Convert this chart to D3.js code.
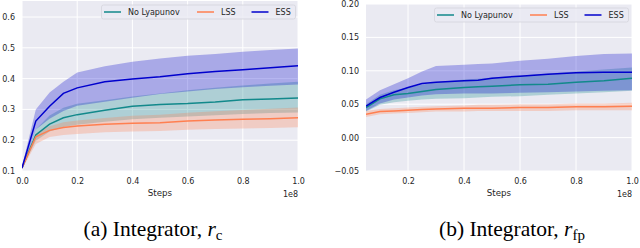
<!DOCTYPE html>
<html><head><meta charset="utf-8">
<script src="https://cdn.jsdelivr.net/npm/d3@7"></script>
<style>body{margin:0;background:#fff;}svg{display:block;}</style>
</head><body><svg id="c" width="640" height="248"></svg>
<script>
const seriesNames = ["No Lyapunov", "LSS", "ESS"];
const seriesColors = ["#12898b", "#ff7f50", "#0000cd"];

// Panel (a): r_c
const stepsA = [0, 0.05, 0.1, 0.15, 0.2, 0.3, 0.4, 0.5, 0.6, 0.7, 0.8, 0.9, 1.0];
const nolA   = [0.11, 0.217, 0.252, 0.273, 0.283, 0.297, 0.310, 0.316, 0.319, 0.324, 0.331, 0.334, 0.337];
const nolUpA = [0.112, 0.235, 0.280, 0.305, 0.318, 0.330, 0.342, 0.352, 0.362, 0.370, 0.378, 0.384, 0.390];
const nolLoA = [0.108, 0.198, 0.228, 0.243, 0.250, 0.260, 0.268, 0.273, 0.277, 0.281, 0.285, 0.288, 0.290];
const lssA   = [0.11, 0.211, 0.232, 0.241, 0.246, 0.252, 0.255, 0.257, 0.262, 0.266, 0.268, 0.270, 0.273];
const lssUpA = [0.112, 0.222, 0.245, 0.258, 0.264, 0.272, 0.279, 0.283, 0.289, 0.294, 0.298, 0.302, 0.306];
const lssLoA = [0.106, 0.188, 0.210, 0.217, 0.220, 0.226, 0.228, 0.230, 0.234, 0.236, 0.238, 0.240, 0.242];
const essA   = [0.11, 0.262, 0.310, 0.352, 0.370, 0.390, 0.399, 0.406, 0.416, 0.423, 0.429, 0.435, 0.442];
const essUpA = [0.115, 0.300, 0.355, 0.390, 0.420, 0.440, 0.455, 0.465, 0.474, 0.480, 0.487, 0.493, 0.498];
const essLoA = [0.105, 0.235, 0.270, 0.295, 0.312, 0.325, 0.338, 0.350, 0.358, 0.366, 0.372, 0.377, 0.381];
const xTicksA = [0, 0.2, 0.4, 0.6, 0.8, 1.0];
const yTicksA = [0.1, 0.2, 0.3, 0.4, 0.5, 0.6];

// Panel (b): r_fp
const stepsB = [0.05, 0.1, 0.15, 0.2, 0.25, 0.3, 0.4, 0.45, 0.5, 0.6, 0.7, 0.8, 0.9, 1.0];
const nolB   = [0.045, 0.058, 0.064, 0.066, 0.069, 0.072, 0.075, 0.076, 0.077, 0.079, 0.080, 0.083, 0.085, 0.089];
const nolUpB = [0.050, 0.064, 0.071, 0.075, 0.079, 0.083, 0.087, 0.088, 0.090, 0.093, 0.096, 0.099, 0.102, 0.105];
const nolLoB = [0.039, 0.049, 0.053, 0.055, 0.057, 0.058, 0.059, 0.060, 0.061, 0.062, 0.064, 0.066, 0.068, 0.070];
const lssB   = [0.035, 0.039, 0.040, 0.041, 0.042, 0.043, 0.044, 0.044, 0.044, 0.045, 0.045, 0.046, 0.046, 0.047];
const lssUpB = [0.040, 0.043, 0.044, 0.045, 0.046, 0.047, 0.048, 0.049, 0.049, 0.050, 0.050, 0.051, 0.051, 0.052];
const lssLoB = [0.031, 0.035, 0.036, 0.037, 0.038, 0.039, 0.039, 0.040, 0.040, 0.040, 0.040, 0.041, 0.041, 0.041];
const essB   = [0.047, 0.060, 0.068, 0.075, 0.081, 0.083, 0.085, 0.086, 0.089, 0.092, 0.095, 0.097, 0.098, 0.098];
const essUpB = [0.057, 0.071, 0.080, 0.089, 0.099, 0.107, 0.109, 0.110, 0.111, 0.115, 0.118, 0.122, 0.125, 0.126];
const essLoB = [0.040, 0.051, 0.057, 0.060, 0.063, 0.065, 0.066, 0.066, 0.066, 0.067, 0.068, 0.069, 0.070, 0.071];
const xTicksB = [0.2, 0.4, 0.6, 0.8, 1.0];
const yTicksB = [-0.05, 0.00, 0.05, 0.10, 0.15, 0.20];

const svg = d3.select("#c");
const FONT = "DejaVu Sans, sans-serif";

function panel(o) {
  const g = svg.append("g");
  const x = d3.scaleLinear().domain(o.xDom).range([o.left, o.right]);
  const y = d3.scaleLinear().domain(o.yDom).range([o.bottom, o.top]);
  g.append("rect").attr("x", o.left).attr("y", o.top)
    .attr("width", o.right - o.left).attr("height", o.bottom - o.top).attr("fill", "#eaeaf2");
  g.selectAll(".gx").data(o.xTicks).join("line")
    .attr("x1", d => x(d)).attr("x2", d => x(d)).attr("y1", o.top).attr("y2", o.bottom)
    .attr("stroke", "#fff").attr("stroke-width", 1);
  g.selectAll(".gy").data(o.yTicks).join("line")
    .attr("y1", d => y(d)).attr("y2", d => y(d)).attr("x1", o.left).attr("x2", o.right)
    .attr("stroke", "#fff").attr("stroke-width", 1);
  const xa = g.append("g").attr("transform", `translate(0,${o.bottom})`)
    .call(d3.axisBottom(x).tickValues(o.xTicks).tickSize(0).tickPadding(7).tickFormat(d3.format(".1f")));
  const ya = g.append("g").attr("transform", `translate(${o.left},0)`)
    .call(d3.axisLeft(y).tickValues(o.yTicks).tickSize(0).tickPadding(7).tickFormat(o.yFmt));
  [xa, ya].forEach(a => {
    a.select(".domain").remove();
    a.selectAll("text").attr("font-family", FONT).attr("font-size", 8).attr("fill", "#262626");
  });
  g.append("text").attr("x", (o.left + o.right) / 2).attr("y", o.bottom + 25)
    .attr("text-anchor", "middle").attr("font-family", FONT).attr("font-size", 8.7).attr("fill", "#262626").text("Steps");
  g.append("text").attr("x", o.right).attr("y", o.bottom + 26)
    .attr("text-anchor", "end").attr("font-family", FONT).attr("font-size", 8).attr("fill", "#262626").text("1e8");

  const clipId = "clip" + o.id;
  g.append("clipPath").attr("id", clipId).append("rect").attr("x", o.left).attr("y", o.top)
    .attr("width", o.right - o.left).attr("height", o.bottom - o.top);
  const pg = g.append("g").attr("clip-path", `url(#${clipId})`);
  const area = d3.area().x(d => x(d.s)).y0(d => y(d.lo)).y1(d => y(d.hi));
  const line = d3.line().x(d => x(d.s)).y(d => y(d.v));
  const data = o.series.map(s => o.steps.map((st, i) => ({s: st, v: s.v[i], lo: s.lo[i], hi: s.hi[i]})));
  data.forEach((d, i) => {
    pg.append("path").attr("d", area(d)).attr("fill", seriesColors[i]).attr("fill-opacity", 0.28);
  });
  data.forEach((d, i) => {
    pg.append("path").attr("d", line(d)).attr("fill", "none").attr("stroke", seriesColors[i]).attr("stroke-width", 1.5);
  });
  const lg = g.append("g").attr("transform", `translate(${o.lx},${o.ly})`);
  lg.append("rect").attr("x", 0).attr("y", 0).attr("width", 194).attr("height", 14).attr("rx", 2)
    .attr("fill", "#eaeaf2").attr("fill-opacity", 0.8).attr("stroke", "#d4d4dc").attr("stroke-width", 0.8);
  const lxs = [2.5, 95.5, 150];
  seriesNames.forEach((n, i) => {
    lg.append("line").attr("x1", lxs[i]).attr("x2", lxs[i] + 17).attr("y1", 7).attr("y2", 7)
      .attr("stroke", seriesColors[i]).attr("stroke-width", 1.5);
    lg.append("text").attr("x", lxs[i] + 24).attr("y", 10).attr("font-family", FONT).attr("font-size", 8)
      .attr("fill", "#262626").text(n);
  });
  const cap = svg.append("text").attr("x", o.capX).attr("y", 236).attr("text-anchor", "middle")
    .attr("font-family", "Liberation Serif, Times New Roman, serif").attr("font-size", 21.5).attr("fill", "#000");
  cap.append("tspan").text(o.capText);
  cap.append("tspan").attr("font-style", "italic").text("r");
  cap.append("tspan").attr("font-size", 15).attr("dy", 4).text(o.capSub);
}

panel({id: "a", left: 22, right: 298, top: 1, bottom: 171, xDom: [0, 1], yDom: [0.1, 0.652],
  xTicks: xTicksA, yTicks: yTicksA, yFmt: d3.format(".1f"), steps: stepsA,
  series: [{v: nolA, lo: nolLoA, hi: nolUpA}, {v: lssA, lo: lssLoA, hi: lssUpA}, {v: essA, lo: essLoA, hi: essUpA}],
  lx: 101.5, ly: 5, capX: 153, capText: "(a) Integrator, ", capSub: "c"});

panel({id: "b", left: 366, right: 632, top: 4, bottom: 171, xDom: [0.05, 1], yDom: [-0.05, 0.2],
  xTicks: xTicksB, yTicks: yTicksB, yFmt: d => d3.format(".2f")(d).replace("-", "\u2212"), steps: stepsB,
  series: [{v: nolB, lo: nolLoB, hi: nolUpB}, {v: lssB, lo: lssLoB, hi: lssUpB}, {v: essB, lo: essLoB, hi: essUpB}],
  lx: 434.5, ly: 8, capX: 512, capText: "(b) Integrator, ", capSub: "fp"});
</script></body></html>
